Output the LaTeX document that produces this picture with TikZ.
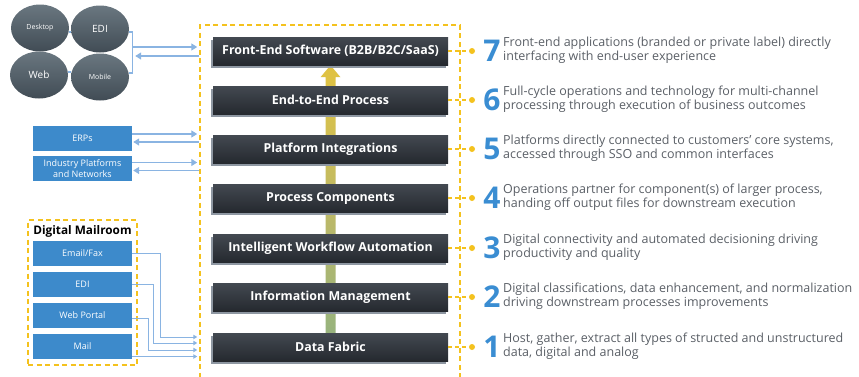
\documentclass[tikz,border=0pt]{standalone}
\usepackage{fontspec}
\setmainfont{Open Sans}
\usetikzlibrary{arrows.meta,positioning,calc,shapes.geometric,shadows,backgrounds}

\definecolor{layertop}{HTML}{434951}
\definecolor{layerbot}{HTML}{25292F}
\definecolor{layeredge}{HTML}{8E97A2}
\definecolor{gold}{HTML}{F4C21E}
\definecolor{sideblue}{HTML}{3D8ACB}
\definecolor{linkblue}{HTML}{8AB4E2}
\definecolor{numblue}{HTML}{3A8DD2}
\definecolor{desctext}{HTML}{5A5F66}
\definecolor{slatetop}{HTML}{6A7780}
\definecolor{slatebot}{HTML}{414C55}
\definecolor{spineA}{HTML}{4B9BCB}
\definecolor{spineB}{HTML}{8FB282}
\definecolor{spineC}{HTML}{B9B86A}
\definecolor{spineD}{HTML}{DCC248}
\pgfdeclareverticalshading{spine}{100bp}{color(0bp)=(spineA); color(20bp)=(spineB);
  color(45bp)=(spineC); color(70bp)=(spineD); color(100bp)=(gold)}

\tikzset{
  layer/.style={minimum width=235, minimum height=28, inner sep=0pt,
    top color=layertop, bottom color=layerbot, text=white,
    font=\bfseries\fontsize{12.4}{14}\selectfont,
    drop shadow={shadow xshift=-2pt, shadow yshift=-3pt, fill=layeredge, opacity=1}},
  hub/.style={ellipse, minimum width=58, minimum height=47, inner sep=0pt,
    top color=slatetop, bottom color=slatebot, text=white},
  sidebox/.style={minimum width=99, minimum height=25, inner sep=0pt, fill=sideblue,
    text=white, align=center, font=\fontsize{9}{10.5}\selectfont},
  link/.style={linkblue, line width=1.3pt},
  flow/.style={link, -{Triangle[length=6pt,width=7pt]}},
  thinflow/.style={linkblue, line width=1pt, -{Triangle[length=4pt,width=4.5pt]}, shorten >=2pt},
  zone/.style={draw=gold, line width=1.5pt, dash pattern=on 5pt off 3.5pt},
  dotlink/.style={gold, line width=1.3pt, dash pattern=on 4pt off 3pt},
  dot/.style={circle, fill=gold, minimum size=6pt, inner sep=0pt},
  num/.style={text=numblue, font=\bfseries\fontsize{30}{30}\selectfont, inner sep=0pt},
  desc/.style={anchor=west, align=left, text=desctext, inner sep=0pt,
    font=\fontsize{12.5}{14}\selectfont}
}

\begin{document}
\begin{tikzpicture}[x=1pt,y=-1pt]
\useasboundingbox (0,0) rectangle (859,376);

% stack frame
\node[zone, minimum width=260, minimum height=365, inner sep=0pt] (frame) at (330,207.5) {};

% layers
\node[layer] (front) at (330.5,51) {Front-End Software (B2B/B2C/SaaS)};
\node[layer] (e2e) at (330.5,100) {End-to-End Process};
\node[layer] (platform) at (330.5,149) {Platform Integrations};
\node[layer] (process) at (330.5,198) {Process Components};
\node[layer] (workflow) at (330.5,248) {Intelligent Workflow Automation};
\node[layer] (info) at (330.5,297) {Information Management};
\node[layer] (fabric) at (330.5,347) {Data Fabric};

\begin{scope}[on background layer]
\shade[shading=spine] ([xshift=-5]fabric.north) -- ([xshift=-5,yshift=-12]front.south)
  -- ([xshift=-10,yshift=-12]front.south) -- (front.south)
  -- ([xshift=10,yshift=-12]front.south) -- ([xshift=5,yshift=-12]front.south)
  -- ([xshift=5]fabric.north) -- cycle;
\end{scope}

% dots, numbers and descriptions
\node[dot] (d7) at (472,51) {};
\node[dot] (d6) at (472,100) {};
\node[dot] (d5) at (472,149) {};
\node[dot] (d4) at (472,198) {};
\node[dot] (d3) at (472,248) {};
\node[dot] (d2) at (472,297) {};
\node[dot] (d1) at (472,347) {};
\draw[dotlink] (front) -- (d7);
\draw[dotlink] (e2e) -- (d6);
\draw[dotlink] (platform) -- (d5);
\draw[dotlink] (process) -- (d4);
\draw[dotlink] (workflow) -- (d3);
\draw[dotlink] (info) -- (d2);
\draw[dotlink] (fabric) -- (d1);

\node[num] (n7) at (492,51) {7};
\node[num] (n6) at (492,100) {6};
\node[num] (n5) at (492,149) {5};
\node[num] (n4) at (492,198) {4};
\node[num] (n3) at (492,248) {3};
\node[num] (n2) at (492,297) {2};
\node[num] (n1) at (492,347) {1};
\node[desc] (t7) at (503,50) {Front-end applications (branded or private label) directly\\interfacing with end-user experience};
\node[desc] (t6) at (503,99) {Full-cycle operations and technology for multi-channel\\processing through execution of business outcomes};
\node[desc] (t5) at (503,148) {Platforms directly connected to customers' core systems,\\accessed through SSO and common interfaces};
\node[desc] (t4) at (503,197) {Operations partner for component(s) of larger process,\\handing off output files for downstream execution};
\node[desc] (t3) at (503,247) {Digital connectivity and automated decisioning driving\\productivity and quality};
\node[desc] (t2) at (503,296) {Digital classifications, data enhancement, and normalization\\driving downstream processes improvements};
\node[desc] (t1) at (503,346) {Host, gather, extract all types of structed and unstructured\\data, digital and analog};

% devices
\node[hub, font=\fontsize{7}{8}\selectfont] (desktop) at (40,28) {Desktop};
\node[hub, font=\fontsize{10}{11}\selectfont] (edi) at (100,29) {EDI};
\node[hub, font=\fontsize{10}{11}\selectfont] (web) at (39,75) {Web};
\node[hub, font=\fontsize{7}{8}\selectfont] (mobile) at (100,77) {Mobile};
\draw[link] ([yshift=-4]desktop.east) -- ([yshift=-4]desktop.east -| edi.west);
\draw[link] ([yshift=3]web.east) -- ([yshift=3]web.east -| mobile.west);
\draw[link] ([yshift=-3]edi.east) -- ++(3,0) coordinate (devjoin) |- ([yshift=4]mobile.east);
\draw[flow, shorten >=2pt] ([yshift=4]devjoin |- front) -- ([yshift=4]front -| frame.west);
\draw[flow, shorten >=1pt] ([yshift=-5]front -| frame.west) -- ([yshift=-5,xshift=2]devjoin |- front);

% enterprise systems
\node[sidebox] (erp) at (82.5,138) {ERPs};
\node[sidebox] (industry) at (82.5,168.5) {Industry Platforms\\and Networks};
\draw[flow, shorten >=2pt] ([yshift=4]erp.east) -- ([yshift=4]erp.east -| frame.west);
\draw[flow, shorten >=1pt] ([yshift=-4]erp.east -| frame.west) -- ([yshift=-4]erp.east);
\draw[flow, shorten >=2pt] ([yshift=6]industry.east) -- ([yshift=6]industry.east -| frame.west);
\draw[flow, shorten >=1pt] ([yshift=-2]industry.east -| frame.west) -- ([yshift=-2]industry.east);

% digital mailroom
\node[zone, minimum width=109, minimum height=145, inner sep=0pt] (mailroom) at (82.5,292.5) {};
\node[font=\bfseries\fontsize{11.8}{13}\selectfont, inner sep=0pt] (mailtitle) at (82.5,231) {Digital Mailroom};
\node[sidebox] (email) at (82.5,253.5) {Email/Fax};
\node[sidebox] (edimail) at (82.5,284.5) {EDI};
\node[sidebox] (portal) at (82.5,315.5) {Web Portal};
\node[sidebox] (mail) at (82.5,346.5) {Mail};
\draw[thinflow] (email.east) -- ++(28,0) |- ([yshift=10]fabric.west -| frame.west);
\draw[thinflow] (edimail.east) -- ++(21,0) |- ([yshift=4]fabric.west -| frame.west);
\draw[thinflow] ([yshift=-3]portal.east) -- ++(16,0) |- ([yshift=-3]fabric.west -| frame.west);
\draw[thinflow] ([yshift=-10]mail.east) -- ([yshift=-10]mail.east -| frame.west);
\end{tikzpicture}
\end{document}
